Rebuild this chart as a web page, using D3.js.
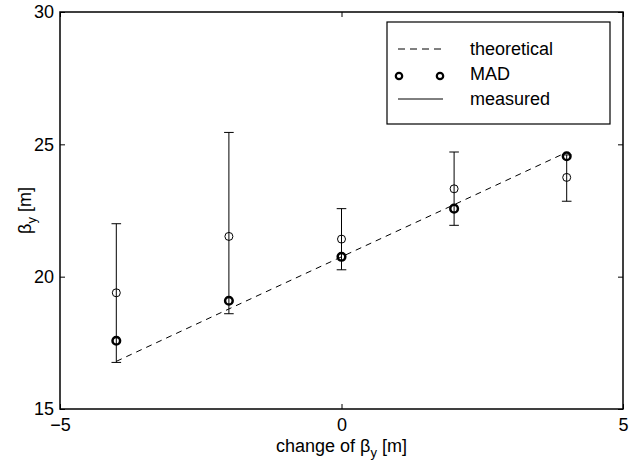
<!DOCTYPE html>
<html><head><meta charset="utf-8">
<script src="https://cdn.jsdelivr.net/npm/d3@7"></script>
<style>body{margin:0;background:#fff}svg{display:block}text{font-family:"Liberation Sans",Arial,sans-serif;fill:#000}</style>
</head><body><svg id="c" width="635" height="462"></svg>
<script>
const xs = [-4, -2, 0, 2, 4];
const theoretical = [16.8, 18.78, 20.75, 22.72, 24.7];
const mad = [17.58, 19.09, 20.75, 22.57, 24.55];
const measured = [19.39, 21.52, 21.42, 23.32, 23.75];
const measuredLow = [16.76, 18.6, 20.26, 21.94, 22.85];
const measuredHigh = [22.0, 25.45, 22.57, 24.71, 24.6];
const xTicks = [-5, 0, 5];
const yTicks = [15, 20, 25, 30];
const legendLabels = ["theoretical", "MAD", "measured"];

const svg = d3.select("#c");
const L = 60, R = 623, T = 12, B = 409;
const x = d3.scaleLinear().domain([-5, 5]).range([L, R]);
const y = d3.scaleLinear().domain([15, 30]).range([B, T]);
const tk = 5;
const FS = 18;

// axes (box with inward ticks)
const gx = svg.append("g").attr("transform", `translate(0,${B})`)
  .call(d3.axisBottom(x).tickValues(xTicks).tickSizeInner(-tk).tickSizeOuter(0).tickPadding(9).tickFormat(d => d < 0 ? "\u2212" + Math.abs(d) : d));
const gxt = svg.append("g").attr("transform", `translate(0,${T})`)
  .call(d3.axisTop(x).tickValues(xTicks).tickSizeInner(-tk).tickSizeOuter(0).tickFormat(""));
const gy = svg.append("g").attr("transform", `translate(${L},0)`)
  .call(d3.axisLeft(y).tickValues(yTicks).tickSizeInner(-tk).tickSizeOuter(0).tickPadding(6));
const gyr = svg.append("g").attr("transform", `translate(${R},0)`)
  .call(d3.axisRight(y).tickValues(yTicks).tickSizeInner(-tk).tickSizeOuter(0).tickFormat(""));
[gx, gxt, gy, gyr].forEach(g => {
  g.select(".domain").remove();
  g.selectAll("line").attr("stroke", "#000");
  g.selectAll("text").attr("font-size", FS).attr("font-family", "Liberation Sans, Arial, sans-serif").attr("fill", "#000");
});
svg.append("rect").attr("x", L).attr("y", T).attr("width", R - L).attr("height", B - T)
  .attr("fill", "none").attr("stroke", "#000").attr("stroke-width", 1.5);

// theoretical dashed line
svg.append("path").datum(xs.map((d, i) => [d, theoretical[i]]))
  .attr("d", d3.line().x(d => x(d[0])).y(d => y(d[1])))
  .attr("fill", "none").attr("stroke", "#000").attr("stroke-width", 1).attr("stroke-dasharray", "6,5");

// MAD bold circles
svg.selectAll(".mad").data(xs).enter().append("circle")
  .attr("cx", d => x(d)).attr("cy", (d, i) => y(mad[i])).attr("r", 3.8)
  .attr("fill", "none").attr("stroke", "#000").attr("stroke-width", 2.5);

// measured error bars
const cap = 4.8;
const eb = svg.selectAll(".eb").data(xs).enter().append("g");
eb.append("line").attr("x1", d => x(d)).attr("x2", d => x(d))
  .attr("y1", (d, i) => y(measuredLow[i])).attr("y2", (d, i) => y(measuredHigh[i]))
  .attr("stroke", "#000").attr("stroke-width", 1);
eb.append("line").attr("x1", d => x(d) - cap).attr("x2", d => x(d) + cap)
  .attr("y1", (d, i) => y(measuredLow[i])).attr("y2", (d, i) => y(measuredLow[i]))
  .attr("stroke", "#000").attr("stroke-width", 1);
eb.append("line").attr("x1", d => x(d) - cap).attr("x2", d => x(d) + cap)
  .attr("y1", (d, i) => y(measuredHigh[i])).attr("y2", (d, i) => y(measuredHigh[i]))
  .attr("stroke", "#000").attr("stroke-width", 1);
eb.append("circle").attr("cx", d => x(d)).attr("cy", (d, i) => y(measured[i])).attr("r", 4)
  .attr("fill", "none").attr("stroke", "#000").attr("stroke-width", 1);

// axis labels
const xl = svg.append("text").attr("x", (L + R) / 2).attr("y", 452).attr("text-anchor", "middle").attr("font-size", FS);
xl.append("tspan").text("change of \u03B2");
xl.append("tspan").attr("dy", 5).attr("font-size", 13).text("y");
xl.append("tspan").attr("dy", -5).text(" [m]");
const yl = svg.append("text").attr("transform", `translate(31,${(T + B) / 2}) rotate(-90)`).attr("text-anchor", "middle").attr("font-size", FS);
yl.append("tspan").text("\u03B2");
yl.append("tspan").attr("dy", 5).attr("font-size", 13).text("y");
yl.append("tspan").attr("dy", -5).text(" [m]");

// legend
const lg = svg.append("g");
lg.append("rect").attr("x", 387).attr("y", 22).attr("width", 223).attr("height", 102)
  .attr("fill", "#fff").attr("stroke", "#000").attr("stroke-width", 1.2);
const rows = [49, 74, 99];
lg.append("line").attr("x1", 398).attr("x2", 443).attr("y1", rows[0]).attr("y2", rows[0])
  .attr("stroke", "#000").attr("stroke-dasharray", "7,5");
[399, 440].forEach(cx => lg.append("circle").attr("cx", cx).attr("cy", rows[1] + 2).attr("r", 3.2)
  .attr("fill", "none").attr("stroke", "#000").attr("stroke-width", 2.2));
lg.append("line").attr("x1", 398).attr("x2", 443).attr("y1", rows[2]).attr("y2", rows[2])
  .attr("stroke", "#000").attr("stroke-width", 1);
legendLabels.forEach((t, i) => lg.append("text").attr("x", 470).attr("y", rows[i]).attr("dy", "0.35em")
  .attr("font-size", FS).text(t));
</script></body></html>
